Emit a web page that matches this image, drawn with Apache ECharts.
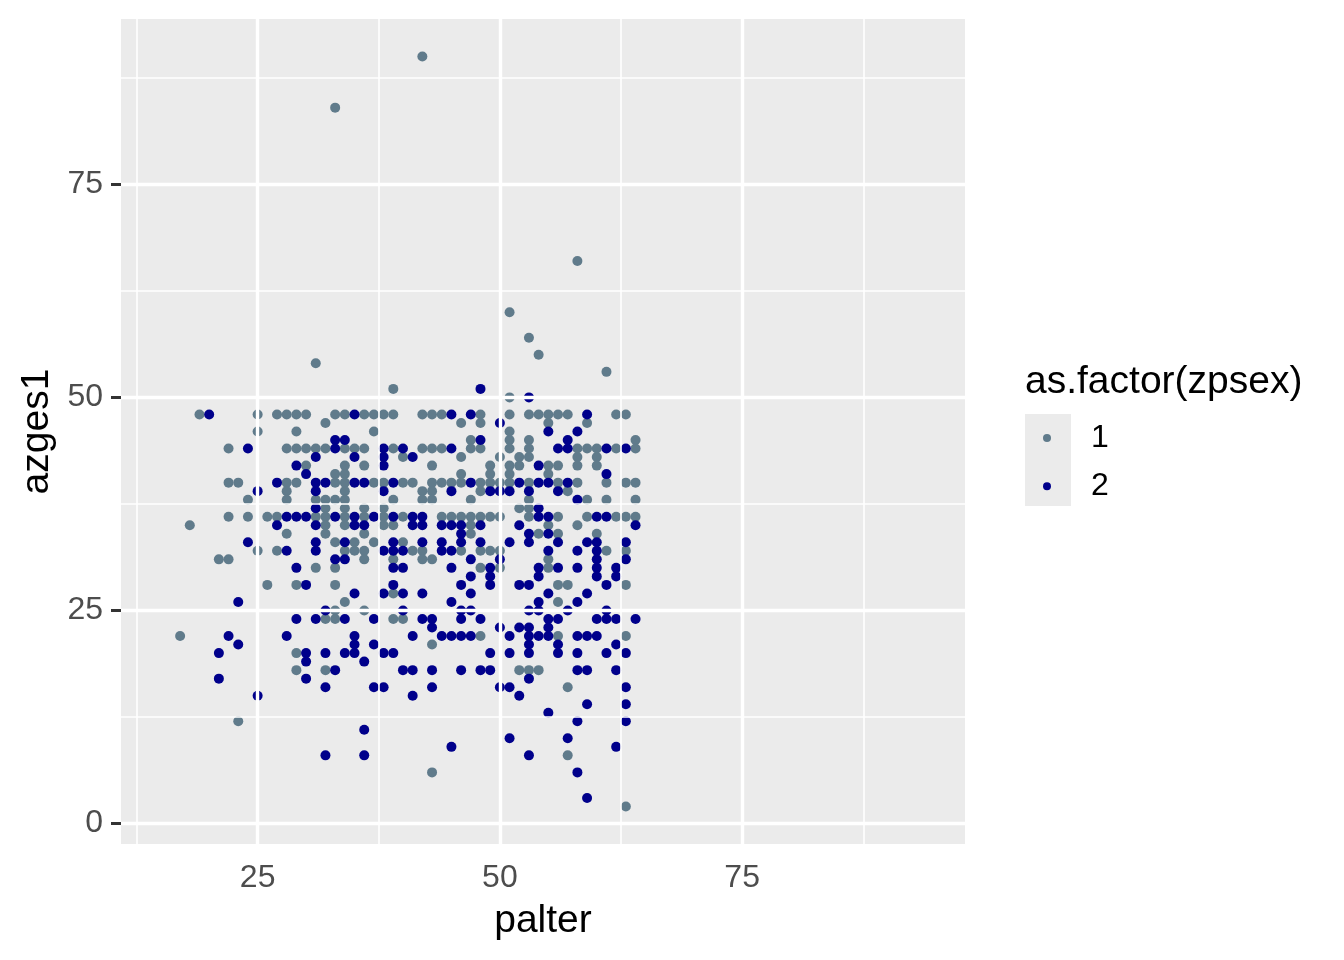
<!DOCTYPE html>
<html><head><meta charset="utf-8">
<script src="https://cdn.jsdelivr.net/npm/echarts@6/dist/echarts.min.js"></script>
<style>html,body{margin:0;padding:0;background:#fff}#c{width:1344px;height:960px}</style>
</head><body><div id="c"></div>
<script>
// ---- data ----
const xTicks = [25, 50, 75];
const yTicks = [0, 25, 50, 75];
const xMinor = [12.5, 37.5, 62.5, 87.5];
const yMinor = [12.5, 37.5, 62.5, 87.5];
const groups = ['1', '2'];
const legendTitle = 'as.factor(zpsex)';
const xName = 'palter';
const yName = 'azges1';

// rows: [azges1, [palter values]]  -- zpsex = 1
const sex1Rows = [
  [90,[42]],[84,[33]],[66,[58]],[60,[51]],[57,[53]],[55,[54]],[54,[31]],[53,[61]],[51,[39]],[50,[51]],
  [48,[19,25,27,28,29,30,33,34,36,37,38,39,42,43,44,48,51,53,54,55,56,57,62,63]],
  [47,[32,46,48,55,59]],
  [46,[25,29,37,51]],
  [45,[47,51,53,64]],
  [44,[22,28,29,30,31,32,34,35,36,39,42,43,44,47,48,51,53,58,59,60,62,64]],
  [43,[40,46,50,52,53,58,60]],
  [42,[30,34,36,43,49,51,52,55,56,58,60]],
  [41,[33,34,46,49,51,55]],
  [40,[22,23,28,29,33,34,37,38,40,41,43,44,45,46,48,49,50,51,53,56,58,61,63,64]],
  [39,[28,34,42,43,48,57]],
  [38,[24,28,31,32,33,34,39,42,43,47,53,59,61,64]],
  [37,[32,34,36,38,52,53]],
  [36,[22,24,26,27,31,32,34,36,38,40,44,45,46,47,48,49,50,53,56,59,62,63,64]],
  [35,[18,32,34,38,39,47,55,58]],
  [34,[28,32,36,47,54,56,60]],
  [33,[33,35,37,40]],
  [32,[25,27,34,35,36,41,42,46,48,49,50,61,63]],
  [31,[21,22,36,39,42,43,55]],
  [30,[31,33,48,50,55]],
  [28,[26,29,33,56,57,63]],
  [27,[39]],
  [26,[34,56]],
  [25,[33,36]],
  [24,[32,33,39,40]],
  [22,[17,48,56,63]],
  [21,[43]],
  [20,[29]],
  [18,[29,32,52,53,54]],
  [16,[57]],
  [12,[23]],
  [8,[57]],
  [6,[43]],
  [2,[63]]
];

// rows: [azges1, [palter values]]  -- zpsex = 2
const sex2Rows = [
  [51,[48]],[50,[53]],
  [48,[20,35,45,47,59]],
  [47,[50]],
  [46,[55,58]],
  [45,[33,34,48,57]],
  [44,[24,33,38,40,45,56,57,61,63]],
  [43,[31,35,38,41]],
  [42,[29,38,54]],
  [41,[30,61]],
  [40,[27,31,32,35,36,39,47,52,54,55,57]],
  [39,[25,31,38,45,49,50,51,53,56]],
  [38,[58]],
  [37,[31,54]],
  [36,[28,29,30,33,35,37,39,41,42,54,55,60,61]],
  [35,[27,31,35,36,41,42,44,45,46,48,52,64]],
  [34,[46,53,55]],
  [33,[24,31,34,39,42,44,46,48,51,53,56,59,60,63]],
  [32,[28,31,38,39,40,44,45,55,58,60]],
  [31,[33,34,47,50,60,63]],
  [30,[29,39,40,45,49,54,56,58,60,62]],
  [29,[47,49,54,60,62]],
  [28,[30,39,46,49,52,53,61]],
  [27,[35,38,40,42,47,55,59]],
  [26,[23,45,54,58]],
  [25,[32,40,46,47,53,54,57,61]],
  [24,[29,31,34,37,42,43,46,48,55,56,60,61,62,64]],
  [23,[43,50,52,53,55]],
  [22,[22,28,35,41,44,45,46,47,51,53,54,55,58,59,60]],
  [21,[23,35,37,53,56,62]],
  [20,[21,30,32,34,35,38,39,49,51,53,56,58,61,63]],
  [19,[30,36]],
  [18,[33,40,41,43,46,48,49,58,59,62]],
  [17,[21,30,53]],
  [16,[32,37,38,43,50,51,63]],
  [15,[25,41,52]],
  [14,[59,63]],
  [13,[55]],
  [12,[58,63]],
  [11,[36]],
  [10,[51,57]],
  [9,[45,62]],
  [8,[32,36,53]],
  [6,[58]],
  [3,[59]]
];

// ---- build ----
const toPoints = rows => rows.flatMap(([y, xs]) => xs.map(x => [x, y]));
const FONT = 'Liberation Sans, Arial, sans-serif';
const gridLines = [
  ...xMinor.map(v => ({ xAxis: v, lineStyle: { width: 1.6 } })),
  ...yMinor.map(v => ({ yAxis: v, lineStyle: { width: 1.6 } })),
  ...xTicks.map(v => ({ xAxis: v, lineStyle: { width: 3.4 } })),
  ...yTicks.map(v => ({ yAxis: v, lineStyle: { width: 3.4 } }))
];

const chart = echarts.init(document.getElementById('c'), null, { renderer: 'canvas' });
chart.setOption({
  animation: false,
  backgroundColor: '#FFFFFF',
  textStyle: { fontFamily: FONT },
  title: {
    text: legendTitle, left: 1025, top: 363, padding: 0,
    textStyle: { fontFamily: FONT, fontSize: 39, fontWeight: 'normal', color: '#000000' }
  },
  graphic: [{
    type: 'rect', left: 1025, top: 414, z: 0,
    shape: { width: 46, height: 92 }, style: { fill: '#EBEBEB' }, silent: true
  }],
  legend: {
    data: groups, orient: 'vertical', left: 1043, top: 422, padding: 0,
    itemWidth: 8, itemHeight: 8, itemGap: 16.2, icon: 'circle', selectedMode: false,
    textStyle: { fontFamily: FONT, fontSize: 32, color: '#000000', padding: [7, 0, 0, 35] }
  },
  grid: {
    left: 121, right: 379, top: 19, bottom: 116,
    show: true, backgroundColor: '#EBEBEB', borderWidth: 0, containLabel: false
  },
  xAxis: {
    type: 'value', min: 10.9, max: 98.0,
    name: xName, nameLocation: 'middle', nameGap: 58,
    nameTextStyle: { fontFamily: FONT, fontSize: 39, color: '#000000' },
    axisLine: { show: false },
    splitLine: { show: false },
    axisTick: { show: true, length: 10, customValues: xTicks, lineStyle: { color: '#333333', width: 3 } },
    axisLabel: { customValues: xTicks, fontFamily: FONT, fontSize: 32, color: '#4D4D4D', margin: 18 }
  },
  yAxis: {
    type: 'value', min: -2.4, max: 94.4,
    name: yName, nameLocation: 'middle', nameGap: 60,
    nameTextStyle: { fontFamily: FONT, fontSize: 39, color: '#000000' },
    axisLine: { show: false },
    splitLine: { show: false },
    axisTick: { show: true, length: 10, customValues: yTicks, lineStyle: { color: '#333333', width: 3 } },
    axisLabel: { customValues: yTicks, fontFamily: FONT, fontSize: 32, color: '#4D4D4D', margin: 18 }
  },
  series: [
    {
      name: 'grid', type: 'scatter', data: [], z: 1, silent: true,
      markLine: {
        silent: true, symbol: ['none', 'none'], label: { show: false },
        lineStyle: { color: '#FFFFFF', type: 'solid' },
        emphasis: { disabled: true },
        data: gridLines
      }
    },
    {
      name: groups[0], type: 'scatter', z: 3, symbol: 'circle', symbolSize: 10,
      itemStyle: { color: '#607B8B', opacity: 1 }, data: toPoints(sex1Rows), silent: true
    },
    {
      name: groups[1], type: 'scatter', z: 3, symbol: 'circle', symbolSize: 10,
      itemStyle: { color: '#00008B', opacity: 1 }, data: toPoints(sex2Rows), silent: true
    }
  ]
});
</script></body></html>
